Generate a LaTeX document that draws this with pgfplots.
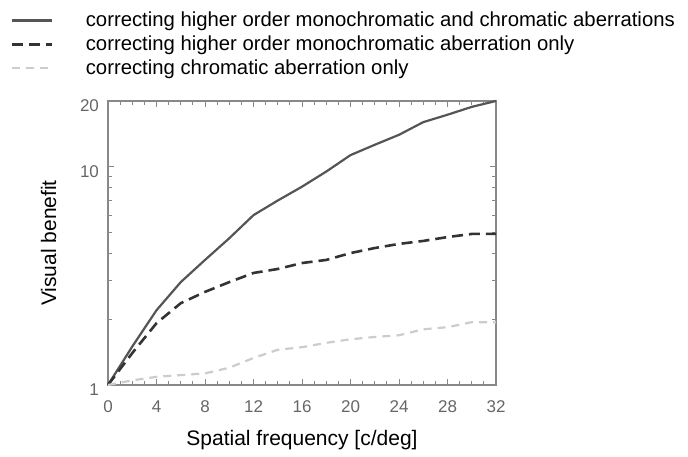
\documentclass[border=0pt]{standalone}
\usepackage{fontspec}
\setmainfont{Liberation Sans}
\usepackage{pgfplots}
\pgfplotsset{compat=1.18}
\definecolor{solidc}{HTML}{555555}
\definecolor{dashc}{HTML}{333333}
\definecolor{lightc}{HTML}{CCCCCC}
\definecolor{axc}{HTML}{888888}
\begin{document}
\begin{tikzpicture}
\begin{axis}[
  scale only axis, width=194pt, height=142pt,
  ymode=log, xmin=0, xmax=32, ymin=1, ymax=20,
  xtick={0,4,...,32}, minor x tick num=3,
  ytick={1,10,20}, yticklabels={1,10,20},
  minor ytick={2,3,4,5,6,7,8,9},
  log basis y=10,
  axis line style={axc, line width=0.8pt},
  tick style={axc, line width=0.5pt},
  major tick length=3pt, minor tick length=2pt,
  tick align=inside,
  /pgf/number format/assume math mode=true,
  ticklabel style={font=\fontsize{8.5}{10}\selectfont, text=black!60},
  xticklabel style={yshift=-4.5pt},
  yticklabel style={yshift=-2.5pt, xshift=-1pt},
  label style={font=\fontsize{10.5}{12}\selectfont},
  xlabel={Spatial frequency [c/deg]},
  ylabel={Visual benefit},
  xlabel style={yshift=-1.5pt},
  ylabel style={yshift=5pt},
  legend style={at={(rel axis cs:-0.253,1.33)}, anchor=north west, draw=none, fill=none,
    font=\fontsize{10.15}{12}\selectfont, row sep=-0.9pt, inner sep=0pt},
  legend cell align=left,
  legend image code/.code={\draw[#1] (0pt,0pt) -- (20pt,0pt); \path (34.5pt,0pt);},
  clip=false,
]
\addplot[solidc, line width=1.1pt] coordinates {
(0,1) (2,1.5) (4,2.2) (6,2.96) (8,3.74) (10,4.7) (12,6.0) (14,7.0) (16,8.1) (18,9.5)
(20,11.3) (22,12.6) (24,14.0) (26,16.0) (28,17.3) (30,18.8) (32,20)};
\addlegendentry{correcting higher order monochromatic and chromatic aberrations}
\addplot[dashc, line width=1.3pt, dash pattern=on 5.5pt off 3pt] coordinates {
(0,1) (2,1.40) (4,1.92) (6,2.37) (8,2.67) (10,2.96) (12,3.26) (14,3.40) (16,3.62) (18,3.74)
(20,4.02) (22,4.24) (24,4.43) (26,4.57) (28,4.76) (30,4.92) (32,4.92)};
\addlegendentry{correcting higher order monochromatic aberration only}
\addplot[lightc, line width=1.1pt, dash pattern=on 4pt off 3pt] coordinates {
(0,1) (2,1.05) (4,1.09) (6,1.11) (8,1.13) (10,1.20) (12,1.33) (14,1.45) (16,1.49) (18,1.56)
(20,1.62) (22,1.66) (24,1.69) (26,1.80) (28,1.84) (30,1.94) (32,1.94)};
\addlegendentry{correcting chromatic aberration only}
\end{axis}
\path ([xshift=-54pt,yshift=-35pt]current axis.south west) rectangle ([xshift=96pt,yshift=50.5pt]current axis.north east);
\end{tikzpicture}
\end{document}
